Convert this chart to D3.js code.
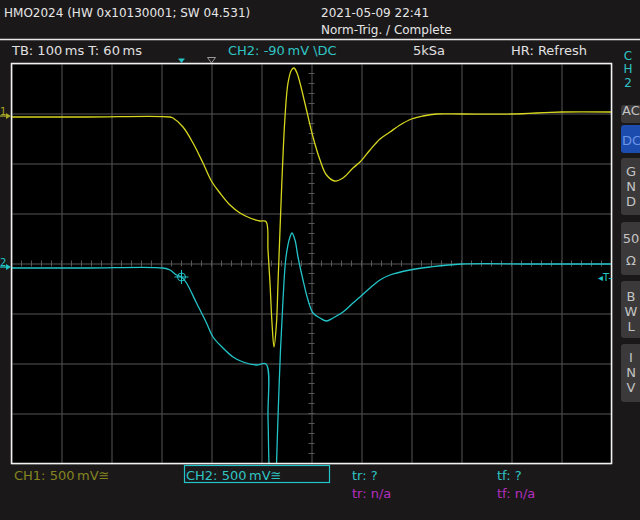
<!DOCTYPE html>
<html><head><meta charset="utf-8">
<script src="https://cdn.jsdelivr.net/npm/d3@7"></script>
<style>
html,body{margin:0;padding:0;background:#1b181a;}
svg{display:block;}
text{font-family:"DejaVu Sans",sans-serif;}
</style></head>
<body>
<svg id="c" width="640" height="520"></svg>
<script>
// ---- data (time in ms relative to screen centre, volts relative to channel reference) ----
const ch1TimeMs = [-600,-450,-283,-277,-257,-237,-217,-199,-183,-163,-143,-123,-103,-91,-87,-83,-79,-75,-70,-67,-62,-58,-53,-47,-40,-35,-29,-23,-10,3,17,30,47,63,83,97,117,137,157,177,200,223,250,300,400,500,600];
const ch1Volts  = [0,0,0,-0.01,-0.10,-0.26,-0.46,-0.65,-0.76,-0.88,-0.96,-1.01,-1.04,-1.045,-1.33,-1.66,-2.06,-2.30,-2.06,-1.66,-1.00,-0.50,0.00,0.34,0.47,0.49,0.44,0.34,0.07,-0.20,-0.43,-0.58,-0.64,-0.61,-0.51,-0.45,-0.33,-0.22,-0.15,-0.08,-0.02,0.01,0.03,0.03,0.03,0.05,0.05];
const ch2TimeMs = [-600,-450,-297,-283,-270,-260,-250,-230,-210,-197,-177,-157,-137,-110,-91,-87,-85,-77,-70,-67,-62,-57,-51,-43,-39,-33,-27,-17,-7,3,17,30,43,63,83,97,117,137,157,197,237,300,450,600];
const ch2Volts  = [-0.01,-0.01,-0.01,-0.03,-0.08,-0.10,-0.16,-0.36,-0.56,-0.70,-0.81,-0.90,-0.95,-0.98,-0.97,-1.50,-1.98,-3.0,-1.98,-1.50,-0.83,-0.33,0.10,0.30,0.34,0.27,0.10,-0.13,-0.33,-0.46,-0.51,-0.54,-0.51,-0.45,-0.36,-0.30,-0.21,-0.13,-0.08,-0.03,0.00,0.03,0.03,0.03];
const timeGridMs = [-600,-500,-400,-300,-200,-100,0,100,200,300,400,500,600];
const divGrid = [-4,-3,-2,-1,0,1,2,3,4];
const voltsPerDiv = 0.5;
const ch1RefDiv = 2.93;   // reference marker positions (divisions from centre)
const ch2RefDiv = -0.07;
const trigTimeMs = -260, trigVolts = -0.10;

const headerTexts = ["HMO2024 (HW 0x10130001; SW 04.531)", "2021-05-09 22:41", "Norm-Trig. / Complete"];
const infoTexts = ["TB: 100\u2009ms  T: 60\u2009ms", "CH2: -90\u2009mV \\DC", "5kSa", "HR: Refresh"];
const bottomTexts = ["CH1: 500\u2009mV\u2245", "CH2: 500\u2009mV\u2245", "tr: ?", "tf: ?", "tr: n/a", "tf: n/a"];
const sideButtons = [["AC"],["DC"],["G","N","D"],["50","\u03A9"],["B","W","L"],["I","N","V"]];

// ---- layout ----
const L = 11.5, R = 611.5, T = 63.5, B = 463.5;
const svg = d3.select("#c");
const x = d3.scaleLinear().domain([-600,600]).range([L,R]);
const yDiv = d3.scaleLinear().domain([-4,4]).range([B,T]);
const y1 = v => yDiv(ch1RefDiv + v/voltsPerDiv);
const y2 = v => yDiv(ch2RefDiv + v/voltsPerDiv);

const COL_Y = "#d6d61e", COL_C = "#22c4c8", GRID = "#575757";

// header
svg.append("text").attr("x",4).attr("y",17).attr("fill","#e6e6e6").attr("font-size",12).text(headerTexts[0]);
svg.append("text").attr("x",321).attr("y",17).attr("fill","#e6e6e6").attr("font-size",12).text(headerTexts[1]);
svg.append("text").attr("x",321).attr("y",34).attr("fill","#e6e6e6").attr("font-size",12).text(headerTexts[2]);
svg.append("line").attr("x1",0).attr("x2",640).attr("y1",39.5).attr("y2",39.5).attr("stroke","#e8e8e8").attr("stroke-width",1.3);

// info row
svg.append("text").attr("x",12).attr("y",55).attr("fill","#e0e0e0").attr("font-size",13).text(infoTexts[0]);
svg.append("text").attr("x",228).attr("y",55).attr("fill","#2fc4c4").attr("font-size",13).text(infoTexts[1]);
svg.append("text").attr("x",413).attr("y",55).attr("fill","#e0e0e0").attr("font-size",13).text(infoTexts[2]);
svg.append("text").attr("x",511).attr("y",55).attr("fill","#e0e0e0").attr("font-size",13).text(infoTexts[3]);

// plot background
svg.append("rect").attr("x",L).attr("y",T).attr("width",R-L).attr("height",B-T).attr("fill","#000");

// grid via axes
const gx = svg.append("g").attr("transform",`translate(0,${B})`)
  .call(d3.axisBottom(x).tickValues(timeGridMs).tickSize(-(B-T)).tickFormat(""));
const gy = svg.append("g").attr("transform",`translate(${L},0)`)
  .call(d3.axisLeft(yDiv).tickValues(divGrid).tickSize(-(R-L)).tickFormat(""));
[gx,gy].forEach(g=>{ g.select(".domain").remove(); g.selectAll("line").attr("stroke",GRID).attr("stroke-width",1); });

// minor ticks on centre lines
const minorT = d3.range(-600,601,20), minorD = d3.range(-4,4.01,0.2);
svg.append("g").selectAll("line").data(minorT).join("line")
  .attr("x1",d=>x(d)).attr("x2",d=>x(d)).attr("y1",yDiv(0)-3).attr("y2",yDiv(0)+3).attr("stroke",GRID);
svg.append("g").selectAll("line").data(minorD).join("line")
  .attr("y1",d=>yDiv(d)).attr("y2",d=>yDiv(d)).attr("x1",x(0)-3).attr("x2",x(0)+3).attr("stroke",GRID);

// clip
svg.append("clipPath").attr("id","clip").append("rect").attr("x",L).attr("y",T).attr("width",R-L).attr("height",B-T);

const line1 = d3.line().x((d,i)=>x(ch1TimeMs[i])).y(d=>y1(d)).curve(d3.curveCatmullRom.alpha(0.5));
const line2 = d3.line().x((d,i)=>x(ch2TimeMs[i])).y(d=>y2(d)).curve(d3.curveCatmullRom.alpha(0.5));
const traces = svg.append("g").attr("clip-path","url(#clip)");
traces.append("path").attr("d",line1(ch1Volts)).attr("fill","none").attr("stroke",COL_Y).attr("stroke-width",1.3);
traces.append("path").attr("d",line2(ch2Volts)).attr("fill","none").attr("stroke",COL_C).attr("stroke-width",1.3);

// trigger crosshair
const tx = x(trigTimeMs), ty = y2(trigVolts);
const cross = svg.append("g").attr("stroke",COL_C).attr("fill","none").attr("stroke-width",1);
cross.append("circle").attr("cx",tx).attr("cy",ty).attr("r",4);
cross.append("line").attr("x1",tx-7).attr("x2",tx+7).attr("y1",ty).attr("y2",ty);
cross.append("line").attr("x1",tx).attr("x2",tx).attr("y1",ty-7).attr("y2",ty+7);

// border
svg.append("rect").attr("x",L).attr("y",T).attr("width",R-L).attr("height",B-T).attr("fill","none").attr("stroke","#f2f2f2").attr("stroke-width",1.5);

// channel reference markers
function refMarker(yy,label,col){
  svg.append("text").attr("x",0).attr("y",yy-1).attr("fill",col).attr("font-size",10).text(label);
  svg.append("line").attr("x1",0).attr("x2",8).attr("y1",yy).attr("y2",yy).attr("stroke",col).attr("stroke-width",1.3);
  svg.append("path").attr("d",`M${6},${yy-3}L${11},${yy}L${6},${yy+3}Z`).attr("fill",col);
}
refMarker(yDiv(ch1RefDiv)-1,"1","#a8a828");
refMarker(yDiv(ch2RefDiv),"2",COL_C);

// trigger markers on top
const tpx = x(trigTimeMs);
svg.append("path").attr("d",`M${tpx-3},${59}L${tpx+3},${59}L${tpx},${63}Z`).attr("fill",COL_C);
svg.append("line").attr("x1",tpx-3).attr("x2",tpx+3).attr("y1",59).attr("y2",59).attr("stroke",COL_C);
const hx = x(trigTimeMs + 60);
svg.append("path").attr("d",`M${hx-4},${57.5}L${hx+4},${57.5}L${hx},${63}Z`).attr("fill","none").attr("stroke","#9a9a9a");

// trigger level marker at right
svg.append("text").attr("x",598).attr("y",y2(trigVolts)+4).attr("fill",COL_C).attr("font-size",10).text("\u25C2T-");

// bottom labels
svg.append("text").attr("x",14).attr("y",480).attr("fill","#85851f").attr("font-size",13).text(bottomTexts[0]);
svg.append("rect").attr("x",184.5).attr("y",465.5).attr("width",145).attr("height",17).attr("fill","none").attr("stroke",COL_C).attr("stroke-width",1.2);
svg.append("text").attr("x",186).attr("y",480).attr("fill","#2fc4c4").attr("font-size",13).text(bottomTexts[1]);
svg.append("text").attr("x",352).attr("y",480).attr("fill","#2fc4c4").attr("font-size",13).text(bottomTexts[2]);
svg.append("text").attr("x",497).attr("y",480).attr("fill","#2fc4c4").attr("font-size",13).text(bottomTexts[3]);
svg.append("text").attr("x",352).attr("y",498).attr("fill","#b42fbe").attr("font-size",13).text(bottomTexts[4]);
svg.append("text").attr("x",497).attr("y",498).attr("fill","#b42fbe").attr("font-size",13).text(bottomTexts[5]);

// side panel
[["C",60],["H",73],["2",87]].forEach(([t,yy])=>
  svg.append("text").attr("x",628).attr("y",yy).attr("text-anchor","middle").attr("fill","#2fc4c4").attr("font-size",12).text(t));
const btnBoxes = [[105,123],[125,153],[158,215],[222,275],[281,338],[344,402]];
const btnBase = [[115],[145],[176,191,206],[243,265],[301,316,331],[362,377,392]];
sideButtons.forEach((lbls,i)=>{
  const [a,b] = btnBoxes[i];
  const isDC = lbls[0]==="DC";
  svg.append("rect").attr("x",621).attr("y",a).attr("width",30).attr("height",b-a).attr("rx",3)
    .attr("fill",isDC?"#1c4cae":"#3b393a");
  lbls.forEach((t,j)=>{
    svg.append("text").attr("x",lbls.length===1?622:631).attr("y",btnBase[i][j])
      .attr("text-anchor",lbls.length===1?"start":"middle")
      .attr("fill",isDC?"#6a94e6":"#c4c4c4").attr("font-size",13).text(t);
  });
});
</script>
</body></html>
